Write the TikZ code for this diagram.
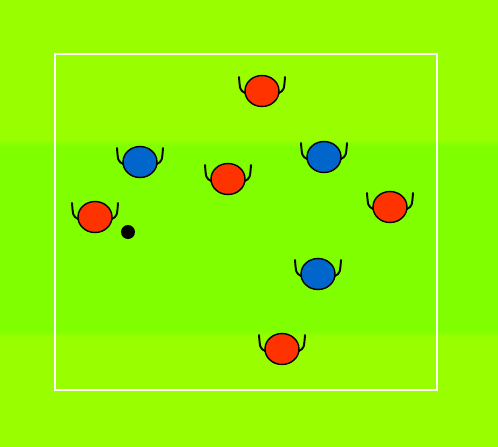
\documentclass[tikz,border=0pt]{standalone}
\usetikzlibrary{shapes.geometric}

\definecolor{grasslight}{HTML}{99FF00}
\definecolor{grassdark}{HTML}{80FF00}
\definecolor{teamred}{HTML}{FF3300}
\definecolor{teamblue}{HTML}{0066CC}

\begin{document}
\begin{tikzpicture}[
    x=0.02cm, y=-0.02cm,
    player/.style={ellipse, draw, line width=0.8pt, inner sep=0pt,
                   minimum width=0.68cm, minimum height=0.62cm},
    arm/.style={line width=1.1pt, line cap=round},
    field/.style={draw=white, line width=1.6pt},
]
    % grass
    \useasboundingbox (0,0) rectangle (498,447);
    \fill[grasslight] (0,0) rectangle (498,447);
    \fill[grassdark] (0,146) rectangle (498,330);
    \shade[top color=grasslight, bottom color=grassdark] (0,138) rectangle (498,146);
    \shade[top color=grassdark, bottom color=grasslight] (0,330) rectangle (498,338);

    % pitch lines
    \draw[field] (55,54) rectangle (437,390);

    % players
    \foreach \name/\px/\py/\col in {r1/262/91/teamred, r2/228/179/teamred,
                                    r3/95/217/teamred, r4/390/207/teamred,
                                    r5/282/349/teamred, b1/140/162/teamblue,
                                    b2/324/157/teamblue, b3/318/274/teamblue} {
        \draw[arm] (\px-17,\py+2) .. controls (\px-22,\py-1) .. (\px-23,\py-14);
        \draw[arm] (\px+17,\py+2) .. controls (\px+22,\py-1) .. (\px+23,\py-14);
        \node[player, fill=\col] (\name) at (\px,\py) {};
    }

    % ball
    \fill (128,232) circle [radius=0.14cm];
\end{tikzpicture}
\end{document}
